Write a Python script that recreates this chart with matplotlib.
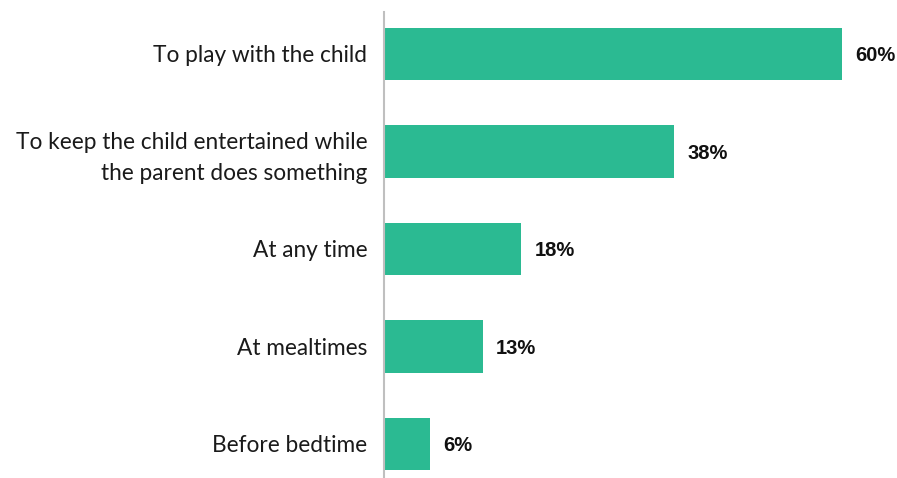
import matplotlib.pyplot as plt

categories = [
    "To play with the child",
    "To keep the child entertained while\nthe parent does something",
    "At any time",
    "At mealtimes",
    "Before bedtime",
]
values = [60, 38, 18, 13, 6]

bar_color = "#2BBA92"
axis_color = "#BFBFBF"

fig = plt.figure(figsize=(8.97, 4.78), dpi=100)
# axes span: x 384..842 px, y 12..478 px
ax = fig.add_axes([384 / 897, 0 / 478, 458 / 897, 466 / 478])

ypos = list(range(len(values)))
ax.barh(ypos, values, height=0.54, color=bar_color, zorder=2)

ax.set_xlim(0, 60)
ax.set_ylim(4.35, -0.43)

for y, v in zip(ypos, values):
    ax.text(v + 1.7, y + 0.02, f"{v}%", va="center", ha="left", fontsize=14.5,
            fontweight="bold", family=["Liberation Sans", "DejaVu Sans"],
            color="#111111", clip_on=False)

ax.set_yticks(ypos)
ax.set_yticklabels(categories, fontsize=16.3, family=["Lato", "DejaVu Sans"],
                   color="#1a1a1a", ha="right", linespacing=1.55)
ax.tick_params(axis="y", length=0, pad=12)
ax.set_xticks([])

for side in ["top", "right", "bottom"]:
    ax.spines[side].set_visible(False)
ax.spines["left"].set_color(axis_color)
ax.spines["left"].set_linewidth(1.5)

fig.savefig("out.png", dpi=100)
